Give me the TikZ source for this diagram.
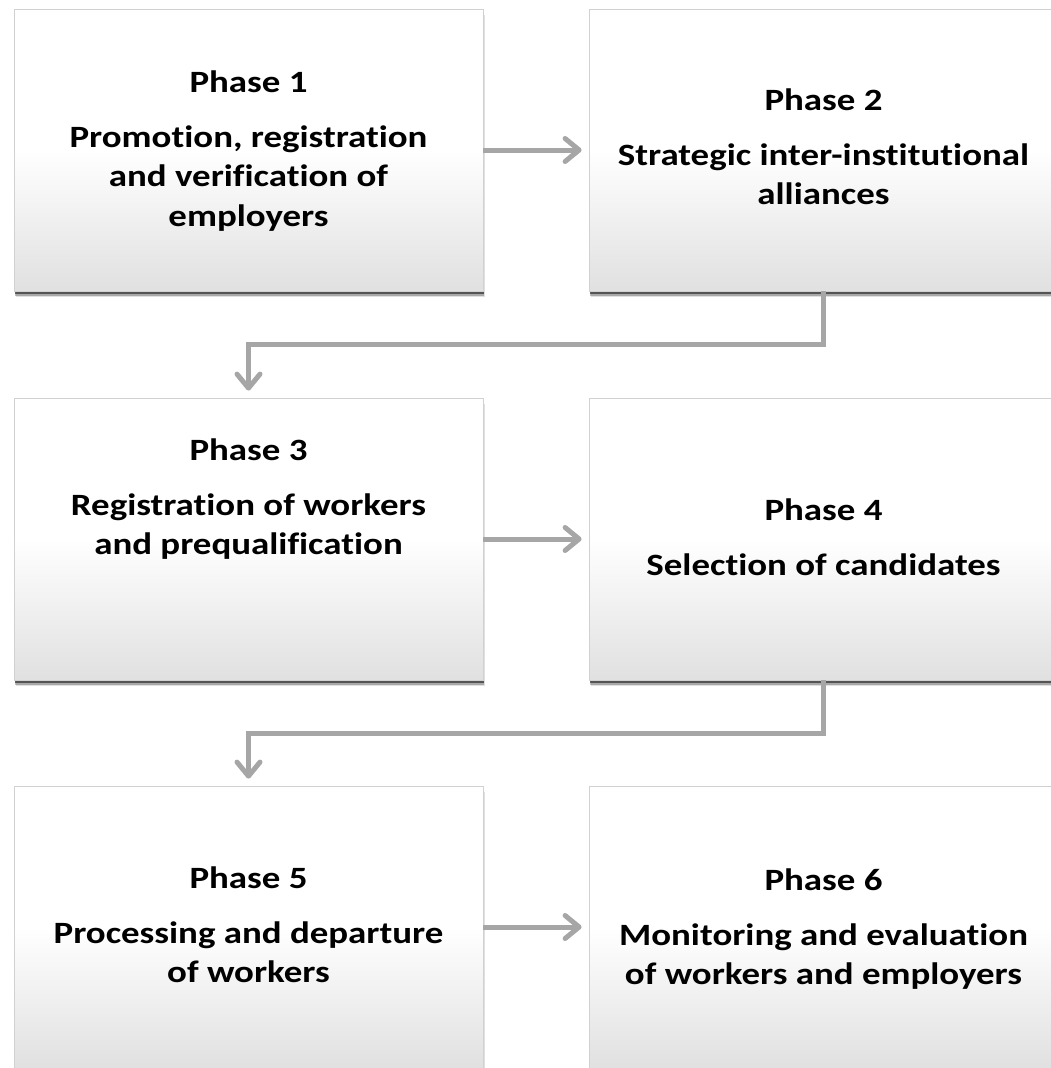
\documentclass[tikz,border=0pt]{standalone}
\usepackage{fontspec}
\setmainfont{Carlito}[FakeStretch=1.19, Ligatures={NoCommon}]
\usepackage{xcolor}
\usepackage{tikz}
\usetikzlibrary{calc}
\usetikzlibrary{positioning}
\usetikzlibrary{shadows}
\usetikzlibrary{arrows.meta}
\definecolor{flowgray}{HTML}{A6A6A6}

\tikzset{
    phasebox/.style={rectangle, draw=black!18, line width=0.8pt, inner sep=0pt,
        minimum width=469pt, minimum height=282pt,
        top color=white, bottom color=black!12, middle color=white,
        drop shadow={shadow xshift=1.5pt, shadow yshift=-6pt, opacity=0.12, fill=black},
        drop shadow={shadow xshift=1pt, shadow yshift=-4.5pt, opacity=0.25, fill=black},
        drop shadow={shadow xshift=0.5pt, shadow yshift=-3pt, opacity=0.5, fill=black}},
    phasetext/.style={anchor=north, inner sep=0pt, align=center,
        font=\fontsize{31}{39.5}\selectfont\bfseries},
    flow/.style={draw=flowgray, line width=5pt,
        -{Straight Barb[length=14pt, width=23pt, round]}, shorten >=7pt},
}

\begin{document}
\begin{tikzpicture}[x=1pt, y=1pt]
        \useasboundingbox (0,0) rectangle (1051,-1068);

        % the six phases
        \node[phasebox] (P1) at (248.5,-150) {};
        \node[phasebox] (P2) at (823.5,-150) {};
        \node[phasebox] (P3) at (248.5,-539) {};
        \node[phasebox] (P4) at (823.5,-539) {};
        \node[phasebox] (P5) at (248.5,-927) {};
        \node[phasebox] (P6) at (823.5,-927) {};

        \node[phasetext, below=62pt of P1.north] (T1) {Phase 1\\[15pt]Promotion, registration\\and verification of\\employers};
        \node[phasetext, below=80pt of P2.north] (T2) {Phase 2\\[15pt]Strategic inter-institutional\\alliances};
        \node[phasetext, below=41pt of P3.north] (T3) {Phase 3\\[15pt]Registration of workers\\and prequalification};
        \node[phasetext, below=101pt of P4.north] (T4) {Phase 4\\[15pt]Selection of candidates};
        \node[phasetext, below=81pt of P5.north] (T5) {Phase 5\\[15pt]Processing and departure\\of workers};
        \node[phasetext, below=83pt of P6.north] (T6) {Phase 6\\[15pt]Monitoring and evaluation\\of workers and employers};

        % flow between phases
        \draw[flow] (P1.east) -- (P2.west);
        \draw[flow] (P2.south) |- ($(P2.south)!.5!(P3.north)$) -| (P3.north);
        \draw[flow] (P3.east) -- (P4.west);
        \draw[flow] (P4.south) |- ($(P4.south)!.5!(P5.north)$) -| (P5.north);
        \draw[flow] (P5.east) -- (P6.west);

\end{tikzpicture}
\end{document}
